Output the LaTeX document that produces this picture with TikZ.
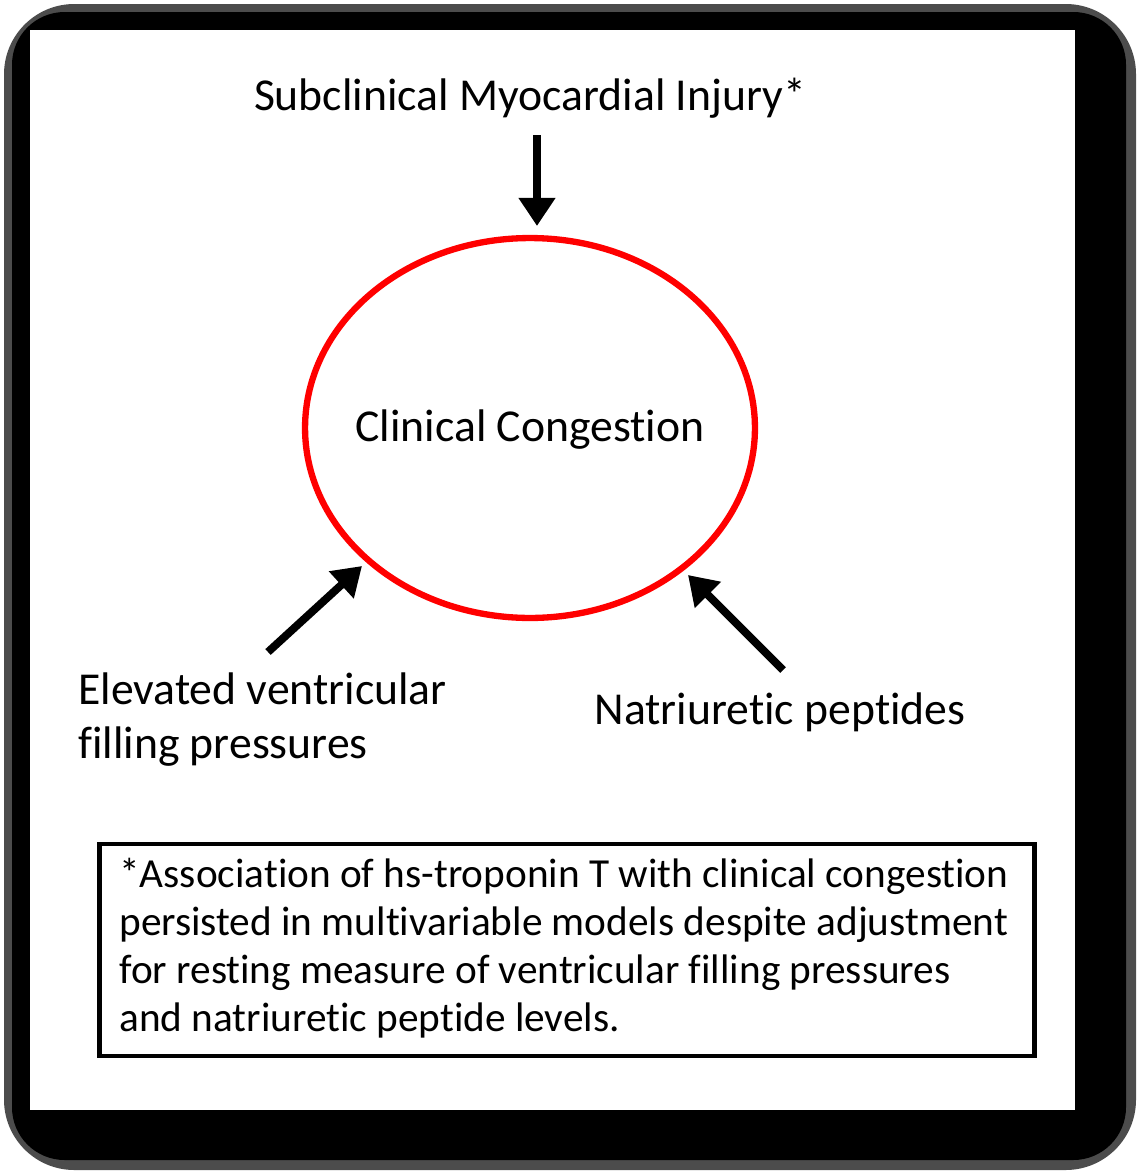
\documentclass[tikz,border=0pt]{standalone}
\usepackage{fontspec}
\setmainfont{Carlito}[Ligatures=NoCommon]
\usetikzlibrary{arrows.meta,shapes.geometric}
\begin{document}
\begin{tikzpicture}[x=0.02cm,y=-0.02cm,
  lbl/.style={font=\fontsize{26}{31}\selectfont,inner sep=0},
  arr/.style={line width=4.5pt,-{Triangle[length=16pt,width=20pt]}}]
\useasboundingbox (0,0) rectangle (1139,1173);
\fill[gray!60!black,rounded corners=40] (4,4) rectangle (1136,1170);
\fill[black,rounded corners=30] (12,12) rectangle (1126,1160);
\fill[white] (30,30) rectangle (1075,1110);
\node[lbl] (top) at (530,98) {Subclinical Myocardial Injury*};
\node[draw=red,line width=3.6pt,ellipse,minimum width=9.0cm,minimum height=7.6cm,inner sep=0] (c) at (530,428) {};
\node[lbl] (cc) at (530,430) {Clinical Congestion};
\coordinate (t1) at (537,135); \coordinate (t2) at (537,226);
\coordinate (l1) at (268,652); \coordinate (l2) at (362,566);
\coordinate (r1) at (783,670); \coordinate (r2) at (688,575);
\draw[arr] (t1) -- (t2);
\draw[arr] (l1) -- (l2);
\draw[arr] (r1) -- (r2);
\node[lbl,anchor=north west,align=left,font=\fontsize{26}{31}\selectfont] (ev) at (78,672) {Elevated ventricular\\filling pressures};
\node[lbl] (np) at (780,712) {Natriuretic peptides};
\node[draw,line width=2.4pt,minimum width=18.7cm,minimum height=4.25cm,inner sep=0] (bx) at (567,950) {};
\node[lbl,anchor=north west,align=left,font=\fontsize{23.5}{27.3}\selectfont] (note) at (119,858) {*Association of hs-troponin T with clinical congestion\\persisted in multivariable models despite adjustment\\for resting measure of ventricular filling pressures\\and natriuretic peptide levels.};
\end{tikzpicture}
\end{document}
